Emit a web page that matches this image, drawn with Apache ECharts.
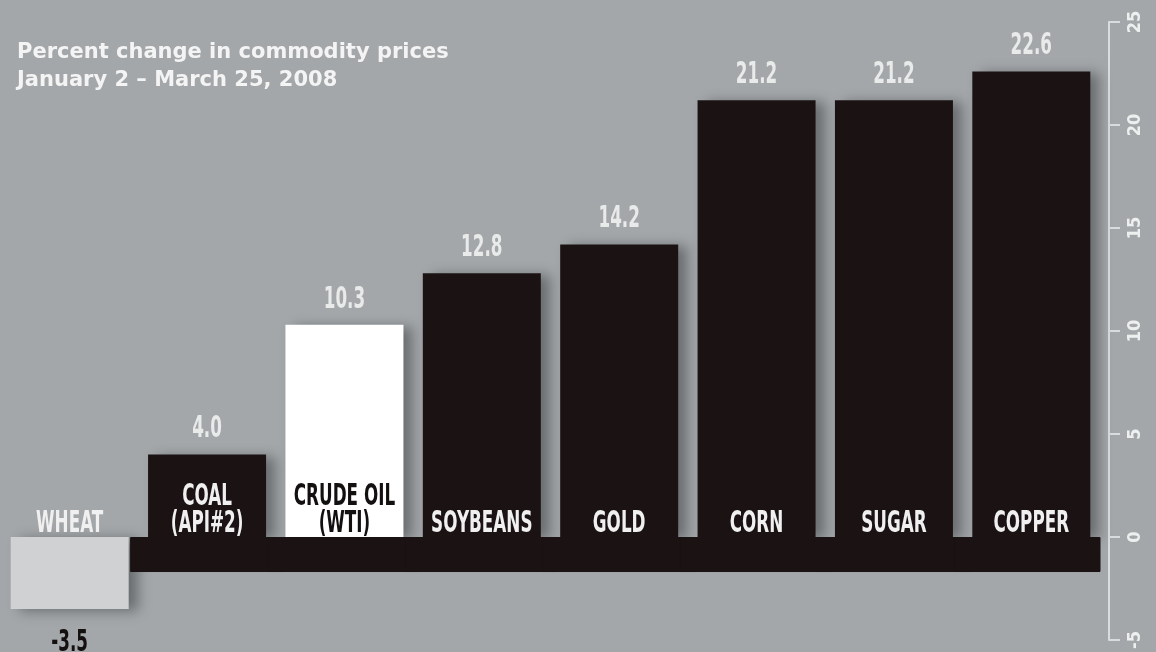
<!DOCTYPE html>
<html>
<head>
<meta charset="utf-8">
<script src="https://cdn.jsdelivr.net/npm/echarts@6/dist/echarts.min.js"></script>
<style>
html,body{margin:0;padding:0;background:#a3a7aa;}
#chart{width:1156px;height:652px;}
</style>
</head>
<body>
<div id="chart"></div>
<script>
const categories = ['WHEAT', 'COAL\n(API#2)', 'CRUDE OIL\n(WTI)', 'SOYBEANS', 'GOLD', 'CORN', 'SUGAR', 'COPPER'];
const values = [-3.5, 4.0, 10.3, 12.8, 14.2, 21.2, 21.2, 22.6];
const valueLabels = ['-3.5', '4.0', '10.3', '12.8', '14.2', '21.2', '21.2', '22.6'];
const baseBand = [null, -1.7, -1.7, -1.7, -1.7, -1.7, -1.7, -1.7];
const titleLines = ['Percent change in commodity prices', 'January 2 \u2013 March 25, 2008'];

const DARK = '#1b1313';
const barColors = values.map((v, i) => i === 0 ? '#cfd1d2' : (i === 2 ? '#ffffff' : DARK));
const catColors = categories.map((c, i) => i === 2 ? '#141010' : '#f0f0f0');
const LABEL_FONT = 'bold 30px "DejaVu Sans", sans-serif';
const SQUEEZE = 0.56;

const chart = echarts.init(document.getElementById('chart'), null, {renderer: 'canvas'});
chart.setOption({
  backgroundColor: '#a3a7aa',
  animation: false,
  title: {
    text: titleLines.join('\n'),
    left: 12, top: 34,
    textStyle: {
      color: '#f4f4f4', fontSize: 21, fontWeight: 'bold',
      fontFamily: '"DejaVu Sans", sans-serif', lineHeight: 28
    }
  },
  grid: {left: 1, right: 56, top: 22, bottom: 9, containLabel: false},
  xAxis: [{
    type: 'category', data: categories,
    axisLine: {show: false, onZero: true},
    axisTick: {show: false},
    splitLine: {show: false},
    axisLabel: {show: false}
  }, {
    type: 'category', data: categories, show: false
  }],
  yAxis: {
    type: 'value', position: 'right', offset: 9,
    min: -5, max: 25, interval: 5,
    axisLine: {show: true, lineStyle: {color: '#d9dcdd', width: 2}},
    axisTick: {show: true, length: 11, lineStyle: {color: '#d9dcdd', width: 2}},
    splitLine: {show: false},
    axisLabel: {
      rotate: 90, margin: 17, color: '#eef0f0',
      fontFamily: '"DejaVu Sans Condensed", sans-serif', fontWeight: 'bold', fontSize: 18
    }
  },
  series: [{
    type: 'bar', xAxisIndex: 1, data: baseBand, barWidth: '112%', z: 3,
    itemStyle: {color: DARK, borderColor: DARK, borderWidth: 1}, silent: true
  }, {
    type: 'bar', xAxisIndex: 0, barWidth: 118, z: 2,
    data: values.map((v, i) => ({value: v, itemStyle: {color: barColors[i]}})),
    itemStyle: {
      shadowColor: 'rgba(0,0,0,0.35)', shadowBlur: 12, shadowOffsetX: 9, shadowOffsetY: 2
    }
  }, {
    type: 'custom', xAxisIndex: 0, z: 5, silent: true,
    data: values.map((v, i) => [i, v]),
    encode: {x: 0, y: 1},
    renderItem: function (params, api) {
      const idx = api.value(0);
      const v = api.value(1);
      const base = api.coord([idx, 0]);
      const tip = api.coord([idx, v]);
      const neg = v < 0;
      return {
        type: 'group',
        children: [{
          type: 'text', x: base[0], y: base[1] + 1, scaleX: SQUEEZE,
          style: {
            text: categories[idx], fill: catColors[idx], font: LABEL_FONT,
            align: 'center', verticalAlign: 'bottom', lineHeight: 27
          }
        }, {
          type: 'text', x: tip[0], y: neg ? tip[1] + 19 : tip[1] - 10, scaleX: SQUEEZE,
          style: {
            text: valueLabels[idx], fill: neg ? '#141010' : '#e9eaea', font: LABEL_FONT,
            align: 'center', verticalAlign: neg ? 'top' : 'bottom'
          }
        }]
      };
    }
  }]
});
</script>
</body>
</html>
